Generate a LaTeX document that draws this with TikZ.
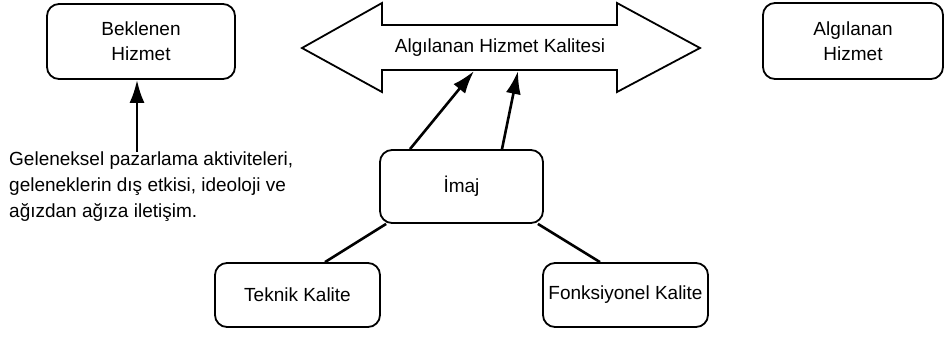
\documentclass[tikz,border=0pt]{standalone}
\usepackage{fontspec}
\setmainfont{Liberation Sans}
\usetikzlibrary{arrows.meta}

\begin{document}
\begin{tikzpicture}[x=1pt,y=-1pt,
    kutu/.style={draw,line width=1.8pt,rounded corners=12pt,align=center,
        font=\fontsize{19}{25}\selectfont},
    ok/.style={line width=2.6pt,-{Latex[length=23pt,width=15pt]}},
    cizgi/.style={line width=2.6pt}]
        \useasboundingbox (0,0) rectangle (946,341);
        % Top row
        \node[kutu,minimum width=188pt,minimum height=75pt] (bek) at (141,41.5) {Beklenen\\Hizmet};
        \node[kutu,minimum width=180pt,minimum height=76pt] (alg) at (853,41) {Alg{\i}lanan\\Hizmet};
        % Double arrow
        \draw[line width=1.8pt,line join=miter] (302,48) -- (382,3) -- (382,25) -- (617,25) -- (617,3)
            -- (700,48) -- (617,92) -- (617,70) -- (382,70) -- (382,92) -- cycle;
        \node[font=\fontsize{19}{25}\selectfont] (akal) at (500,48) {Alg{\i}lanan Hizmet Kalitesi};
        \coordinate (akal1) at (474,71);
        \coordinate (akal2) at (518,71);
        % Middle and bottom
        \node[kutu,minimum width=163pt,minimum height=73pt] (imaj) at (461.5,186.5) {İmaj};
        \node[kutu,minimum width=165pt,minimum height=64pt] (tek) at (297.5,295) {Teknik Kalite};
        \node[kutu,minimum width=165pt,minimum height=64pt] (fonk) at (625.5,295) {Fonksiyonel Kalite};
        \node[anchor=north west,align=left,inner sep=0pt,
            font=\fontsize{19}{26}\selectfont] (gel) at (9,152)
            {Geleneksel pazarlama aktiviteleri,\\geleneklerin dış etkisi, ideoloji ve\\ağızdan ağıza iletişim.};
        % Connectors
        \draw[ok] ([xshift=-4pt]bek.south |- gel.north) -- ([xshift=-4pt]bek.south);
        \draw[ok] ([xshift=-51.5pt]imaj.north) -- (akal1);
        \draw[ok] ([xshift=40.5pt]imaj.north) -- (akal2);
        \draw[cizgi] ([xshift=7pt]imaj.south west) -- ([xshift=27.5pt]tek.north);
        \draw[cizgi] ([xshift=-6pt]imaj.south east) -- ([xshift=-25.5pt]fonk.north);
    \end{tikzpicture}
\end{document}
